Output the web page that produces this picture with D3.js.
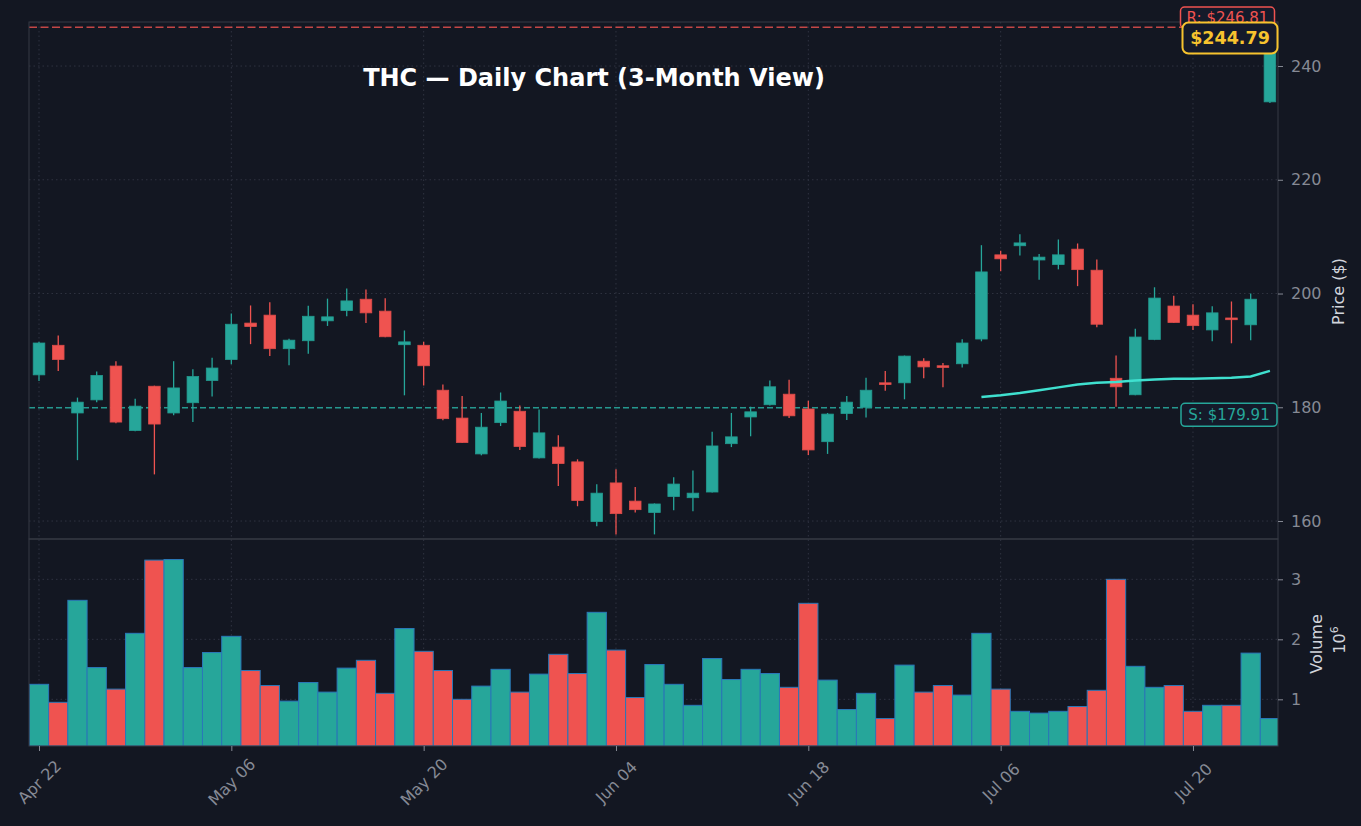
<!DOCTYPE html>
<html>
<head>
<meta charset="utf-8">
<script src="https://cdn.jsdelivr.net/npm/d3@7"></script>
<style>
  html, body { margin: 0; padding: 0; background: #131722; }
  svg { display: block; font-family: "DejaVu Sans", sans-serif; }
</style>
</head>
<body>
<div id="chart"></div>
<script>
// daily OHLC
var opens  = [185.7,190.9,179.0,181.3,187.25,175.9,183.7,179.0,180.8,184.7,
              188.4,194.8,196.2,190.3,191.7,195.2,197.0,199.0,196.9,191.0,
              190.9,183.0,178.1,171.8,177.3,179.3,171.1,173.0,170.4,159.9,
              166.7,163.5,161.5,164.3,164.1,165.1,173.6,178.3,180.45,182.3,
              179.7,173.95,178.9,180.0,184.3,184.3,188.1,187.3,187.65,192.0,
              206.8,208.4,205.9,205.1,207.8,204.1,185.1,182.2,191.9,197.8,
              196.2,193.6,195.7,194.5,233.7];
var highs  = [191.5,192.6,181.7,186.3,188.1,181.5,183.8,188.1,186.7,188.7,
              196.5,197.9,198.45,192.05,197.85,199.1,200.9,200.7,199.15,193.5,
              191.5,184.0,182.0,179.0,182.6,180.3,179.6,175.1,170.85,166.45,
              169.1,166.0,163.1,167.7,168.9,175.7,179.0,180.1,184.7,184.85,
              181.15,179.0,182.0,185.2,186.4,189.1,188.6,187.8,191.95,208.5,
              207.5,210.4,206.95,209.5,208.8,206.0,189.1,193.8,201.1,199.6,
              198.1,197.75,198.6,200.0,246.81];
var lows   = [184.6,186.4,170.7,180.9,177.2,175.8,168.2,178.6,177.4,181.9,
              187.55,191.1,189.0,187.4,189.4,194.3,196.0,194.8,192.3,182.1,
              183.85,177.7,173.7,171.55,176.7,172.5,171.0,166.15,162.6,159.1,
              157.65,161.5,157.65,161.9,161.7,165.0,173.0,174.9,180.3,178.1,
              171.6,171.8,177.75,178.2,182.9,181.4,185.1,183.5,187.0,191.6,
              203.9,206.7,202.4,204.25,201.3,194.05,180.1,182.1,191.8,194.8,
              193.6,191.6,191.25,191.8,233.5];
var closes = [191.3,188.4,180.9,185.6,177.4,180.2,177.05,183.4,185.4,186.9,
              194.6,194.2,190.3,191.8,196.0,195.9,198.7,196.6,192.4,191.5,
              187.3,178.0,173.8,176.5,181.1,173.1,175.5,170.1,163.6,164.9,
              161.3,162.0,163.0,166.5,164.9,173.2,174.8,179.2,183.6,178.5,
              172.5,178.8,180.9,183.0,184.0,189.0,187.1,187.0,191.3,203.8,
              206.1,208.9,206.4,206.8,204.2,194.6,183.6,192.35,199.2,194.9,
              194.35,196.6,195.4,199.0,244.79];
// volume in millions
var volumes = [1.25,0.95,2.65,1.53,1.17,2.10,3.32,3.33,1.53,1.78,
               2.05,1.48,1.23,0.97,1.28,1.12,1.52,1.65,1.10,2.18,
               1.80,1.48,1.00,1.22,1.50,1.12,1.42,1.75,1.43,2.45,
               1.82,1.03,1.58,1.25,0.90,1.68,1.33,1.50,1.43,1.20,
               2.60,1.32,0.83,1.10,0.68,1.57,1.12,1.23,1.07,2.10,
               1.17,0.80,0.77,0.80,0.88,1.15,3.00,1.55,1.20,1.23,
               0.80,0.90,0.90,1.77,0.68];
// moving average, drawn from bar 49 on
var smaStart = 49;
var smaValues = [181.8,182.1,182.5,183.0,183.5,184.0,184.3,184.45,
                 184.7,184.9,185.0,185.0,185.1,185.2,185.4,186.4];
var tickIdx = [0,10,20,30,40,50,60];
var tickLabels = ["Apr 22","May 06","May 20","Jun 04","Jun 18","Jul 06","Jul 20"];
var priceTicks = [160,180,200,220,240];
var volTicks = [1,2,3];
var support = 179.91, resistance = 246.81, lastPrice = 244.79;

var W = 1361, H = 826;
var left = 29, right = 1278,
    pTop = 22, pBot = 539,
    vTop = 539, vBot = 746;
var up = "#26a69a", down = "#ef5350";
var gridCol = "#2f3341", spineCol = "#363a45", tickCol = "#868a95";

var svg = d3.select("#chart").append("svg")
    .attr("width", W).attr("height", H);
svg.append("rect").attr("width", W).attr("height", H).attr("fill", "#131722");

var x = d3.scaleLinear().domain([-0.52, 64.42]).range([left, right]);
var step = x(1) - x(0);
var y = d3.scaleLinear().domain([156.84, 247.74]).range([pBot, pTop]);
var yv = d3.scaleLinear().domain([0.222, 3.672]).range([vBot, vTop]);

svg.append("clipPath").attr("id", "clipP")
    .append("rect").attr("x", left).attr("y", pTop).attr("width", right - left).attr("height", pBot - pTop);
svg.append("clipPath").attr("id", "clipV")
    .append("rect").attr("x", left).attr("y", vTop).attr("width", right - left).attr("height", vBot - vTop);

// grid
var grid = svg.append("g").attr("stroke", gridCol).attr("stroke-width", 1).attr("stroke-dasharray", "1.5,3");
tickIdx.forEach(function(i) {
    grid.append("line").attr("x1", x(i)).attr("x2", x(i)).attr("y1", pTop).attr("y2", vBot);
});
priceTicks.forEach(function(p) {
    grid.append("line").attr("x1", left).attr("x2", right).attr("y1", y(p)).attr("y2", y(p));
});
volTicks.forEach(function(v) {
    grid.append("line").attr("x1", left).attr("x2", right).attr("y1", yv(v)).attr("y2", yv(v));
});

// volume bars
var idx = d3.range(closes.length);
svg.append("g").attr("clip-path", "url(#clipV)")
  .selectAll("rect").data(idx).enter().append("rect")
    .attr("x", function(i) { return x(i) - step / 2; })
    .attr("y", function(i) { return yv(volumes[i]); })
    .attr("width", step)
    .attr("height", function(i) { return vBot - yv(volumes[i]); })
    .attr("fill", function(i) { return closes[i] >= opens[i] ? up : down; })
    .attr("stroke", "#2a78b8").attr("stroke-width", 1);

// reference lines
var pg = svg.append("g").attr("clip-path", "url(#clipP)");
pg.append("line").attr("x1", left).attr("x2", right)
    .attr("y1", y(support)).attr("y2", y(support))
    .attr("stroke", up).attr("stroke-width", 1.6).attr("stroke-dasharray", "6,3").attr("opacity", 0.9);
pg.append("line").attr("x1", left).attr("x2", right)
    .attr("y1", y(resistance)).attr("y2", y(resistance))
    .attr("stroke", down).attr("stroke-width", 1.6).attr("stroke-dasharray", "8,3.5").attr("opacity", 0.8);

// candles
var candles = pg.selectAll("g.c").data(idx).enter().append("g");
candles.append("line")
    .attr("x1", function(i) { return x(i); }).attr("x2", function(i) { return x(i); })
    .attr("y1", function(i) { return y(highs[i]); }).attr("y2", function(i) { return y(lows[i]); })
    .attr("stroke", function(i) { return closes[i] >= opens[i] ? up : down; })
    .attr("stroke-width", 1.3);
candles.append("rect")
    .attr("x", function(i) { return x(i) - 5.8; })
    .attr("width", 11.6)
    .attr("y", function(i) { return y(Math.max(opens[i], closes[i])); })
    .attr("height", function(i) { return Math.max(1.5, Math.abs(y(opens[i]) - y(closes[i]))); })
    .attr("fill", function(i) { return closes[i] >= opens[i] ? up : down; })
    .attr("stroke", function(i) { return closes[i] >= opens[i] ? "#239a8f" : "#dc4c4a"; })
    .attr("stroke-width", 0.8);

// moving average
pg.append("path")
    .datum(smaValues)
    .attr("fill", "none").attr("stroke", "#3fe0cf").attr("stroke-width", 2.5)
    .attr("d", d3.line().x(function(d, k) { return x(smaStart + k); }).y(function(d) { return y(d); }));

// spines
var sp = svg.append("g").attr("fill", "none").attr("stroke", spineCol).attr("stroke-width", 1);
sp.append("rect").attr("x", left).attr("y", pTop).attr("width", right - left).attr("height", pBot - pTop);
sp.append("rect").attr("x", left).attr("y", vTop).attr("width", right - left).attr("height", vBot - vTop);

// axes
function styleAxis(g) {
    g.select(".domain").remove();
    g.selectAll(".tick line").attr("stroke", tickCol);
    g.selectAll(".tick text").attr("fill", tickCol).style("font-size", "16px")
        .style("font-family", "DejaVu Sans");
}
svg.append("g").attr("transform", "translate(" + right + ",0)")
    .call(d3.axisRight(y).tickValues(priceTicks).tickSize(5).tickPadding(8))
    .call(styleAxis);
svg.append("g").attr("transform", "translate(" + right + ",0)")
    .call(d3.axisRight(yv).tickValues(volTicks).tickSize(5).tickPadding(8).tickFormat(d3.format("d")))
    .call(styleAxis);
var xa = svg.append("g").attr("transform", "translate(0," + vBot + ")")
    .call(d3.axisBottom(x).tickValues(tickIdx).tickSize(5)
        .tickFormat(function(d, k) { return tickLabels[k]; }))
    .call(styleAxis);
xa.selectAll(".tick text")
    .attr("y", 0).attr("dy", null)
    .attr("text-anchor", "middle").attr("dominant-baseline", "central")
    .attr("transform", "translate(0,36) rotate(-45)");

// axis titles
svg.append("text").attr("transform", "translate(1338," + ((pTop + pBot) / 2 + 11) + ") rotate(-90)")
    .attr("text-anchor", "middle").attr("dominant-baseline", "central")
    .attr("fill", "#d1d4dc").style("font-size", "16px").text("Price ($)");
svg.append("text").attr("transform", "translate(1316,644) rotate(-90)")
    .attr("text-anchor", "middle").attr("dominant-baseline", "central")
    .attr("fill", "#d1d4dc").style("font-size", "16px").text("Volume");
var mag = svg.append("text").attr("transform", "translate(1339,640) rotate(-90)")
    .attr("text-anchor", "middle").attr("dominant-baseline", "central")
    .attr("fill", "#d1d4dc").style("font-size", "16px");
mag.append("tspan").text("10");
mag.append("tspan").attr("dy", "-0.45em").style("font-size", "11px").text("6");

// title
svg.append("text").attr("x", 594).attr("y", 86)
    .attr("text-anchor", "middle").attr("fill", "#ffffff")
    .style("font-size", "24px").style("font-weight", "bold")
    .text("THC \u2014 Daily Chart (3-Month View)");

// value tags
function tag(cx, cy, w, h, txt, col, fs, bold, sw, r) {
    var g = svg.append("g");
    g.append("rect").attr("x", cx - w / 2).attr("y", cy - h / 2).attr("width", w).attr("height", h)
        .attr("rx", r).attr("fill", "#151a2a").attr("stroke", col).attr("stroke-width", sw);
    g.append("text").attr("x", cx).attr("y", cy).attr("text-anchor", "middle")
        .attr("dominant-baseline", "central").attr("fill", col)
        .style("font-size", fs).style("font-weight", bold ? "bold" : "normal").text(txt);
}
tag(1229, y(support) + 7, 96, 23, "S: $" + support.toFixed(2), up, "15px", false, 1.5, 4);
tag(1227.5, 17.5, 94, 21, "R: $" + resistance.toFixed(2), down, "15px", false, 1.5, 4);
tag(1230, 38, 95, 31, "$" + lastPrice.toFixed(2), "#f7c32e", "17.5px", true, 2, 6);
</script>
</body>
</html>
